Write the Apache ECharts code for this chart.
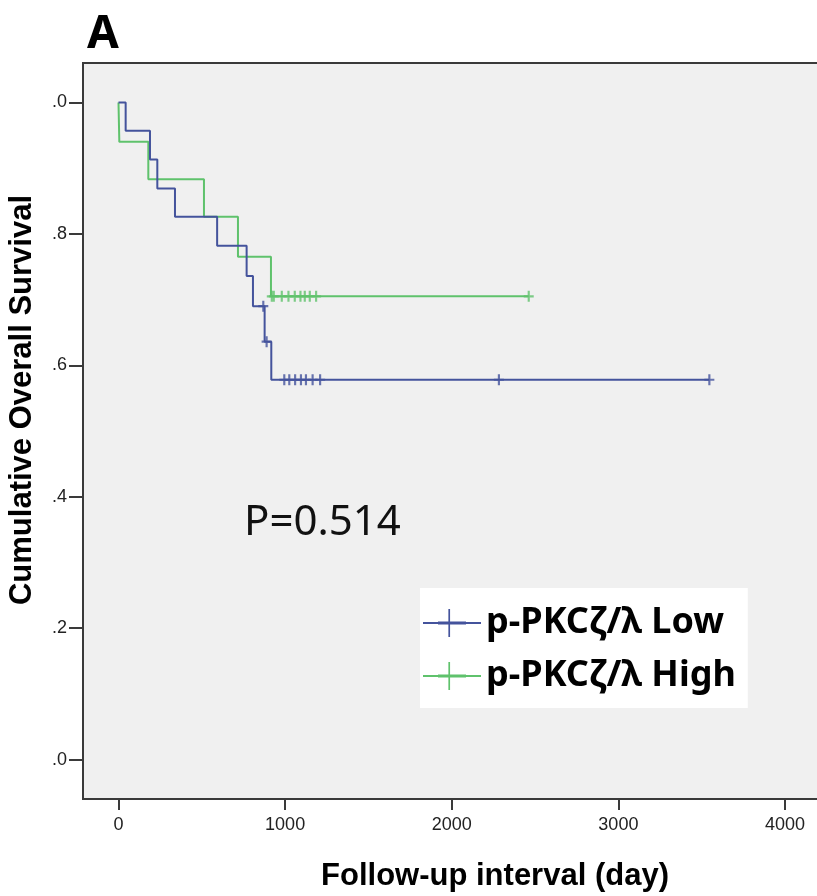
<!DOCTYPE html>
<html>
<head>
<meta charset="utf-8">
<title>KM survival</title>
<script src="https://cdn.jsdelivr.net/npm/echarts@6/dist/echarts.min.js"></script>
<style>
  html, body { margin: 0; padding: 0; background: #fff; }
  #chart { width: 817px; height: 896px; }
</style>
</head>
<body>
<div id="chart"></div>
<script>
// step points of each curve: day where survival drops, survival after the drop
var lowDays  = [0, 43, 189, 233, 339, 592, 769, 807, 877, 917, 3546];
var lowSurv  = [1.0, 0.957, 0.913, 0.869, 0.826, 0.782, 0.736, 0.690, 0.636, 0.578, 0.578];
var highDays = [0, 5, 179, 513, 717, 915, 2462];
var highSurv = [1.0, 0.940, 0.883, 0.826, 0.765, 0.705, 0.705];

// censored cases (days)
var lowCensorDays  = [869, 889, 995, 1025, 1060, 1095, 1125, 1165, 1210, 2283, 3546];
var highCensorDays = [920, 932, 980, 1020, 1058, 1092, 1118, 1148, 1186, 2462];

var seriesNames = ['p-PKCζ/λ Low', 'p-PKCζ/λ High'];
var xTickValues = [0, 1000, 2000, 3000, 4000];
var yTickValues = [0, 0.2, 0.4, 0.6, 0.8, 1.0];
var yTickLabels = ['.0', '.2', '.4', '.6', '.8', '.0'];

var blue = '#44539c';
var green = '#5fc26c';
var titleFont = 'bold 31px "Liberation Sans", Arial, sans-serif';

function pairs(xs, ys) {
    return xs.map(function (x, i) { return [x, ys[i]]; });
}
// survival level of the curve at a given day (for placing censor marks)
function survAt(days, surv, t) {
    var s = surv[0];
    for (var i = 0; i < days.length; i++) {
        if (days[i] <= t) s = surv[i];
    }
    return s;
}
function censorPoints(cDays, days, surv) {
    return cDays.map(function (t) { return [t, survAt(days, surv, t)]; });
}

var plusMark = 'path://M4,0H6.2V11H4Z M0,4.4H10.2V6.6H0Z';
var legendIcon = 'path://M0,15.5H58V19.5H0Z M21.5,0H25V35H21.5Z';

var myChart = echarts.init(document.getElementById('chart'), null, { renderer: 'canvas' });

myChart.setOption({
    animation: false,
    backgroundColor: '#ffffff',
    grid: {
        left: 83, top: 63, right: -3, bottom: 97,
        show: true,
        backgroundColor: '#f0f0f0',
        borderColor: '#3a3a3a',
        borderWidth: 2,
        outerBoundsMode: 'none'
    },
    graphic: [
        { type: 'text', left: 87, top: 12,
          style: { text: 'A', font: 'bold 46px "Noto Sans", sans-serif', fill: '#000' } },
        { type: 'text', left: 244, top: 502,
          style: { text: 'P=0.514', font: '42px "Noto Sans", sans-serif', fill: '#111' } },
        // axis titles
        { type: 'text', x: 22, y: 400, rotation: Math.PI / 2,
          style: { text: 'Cumulative Overall Survival', font: titleFont, fill: '#000', align: 'center', verticalAlign: 'middle' } },
        { type: 'text', x: 495, y: 876,
          style: { text: 'Follow-up interval (day)', font: titleFont, fill: '#000', align: 'center', verticalAlign: 'middle' } }
    ],
    legend: {
        data: seriesNames,
        orient: 'vertical',
        left: 420, top: 588,
        backgroundColor: '#ffffff',
        padding: [17, 12, 14, 2],
        itemWidth: 58, itemHeight: 35,
        itemGap: 17,
        itemTextGap: 8,
        textStyle: { fontFamily: '"Noto Sans", sans-serif', fontWeight: 'bold', fontSize: 36, color: '#000' },
        selectedMode: false
    },
    xAxis: {
        type: 'value',
        min: -213, max: 4210,
        axisLine: { show: true, onZero: false, lineStyle: { color: '#3a3a3a', width: 2 } },
        axisTick: { show: true, length: 11, customValues: xTickValues, lineStyle: { color: '#3a3a3a', width: 2 } },
        axisLabel: {
            customValues: xTickValues, margin: 17,
            fontFamily: '"Liberation Sans", Arial, sans-serif', fontSize: 18, color: '#222',
            formatter: function (v) { return String(v); }
        },
        splitLine: { show: false }
    },
    yAxis: {
        type: 'value',
        min: -0.06, max: 1.06,
        axisLine: { show: true, onZero: false, lineStyle: { color: '#3a3a3a', width: 2 } },
        axisTick: { show: true, length: 14, customValues: yTickValues, lineStyle: { color: '#3a3a3a', width: 2 } },
        axisLabel: {
            customValues: yTickValues, margin: 16,
            fontFamily: '"Liberation Sans", Arial, sans-serif', fontSize: 18, color: '#222',
            formatter: function (v) {
                var i = yTickValues.findIndex(function (t) { return Math.abs(t - v) < 1e-6; });
                return i >= 0 ? yTickLabels[i] : '';
            }
        },
        splitLine: { show: false }
    },
    series: [
        {
            name: seriesNames[0], type: 'line', step: 'end',
            data: pairs(lowDays, lowSurv),
            showSymbol: false, symbol: legendIcon,
            lineStyle: { color: blue, width: 2 },
            itemStyle: { color: blue },
            z: 3
        },
        {
            name: seriesNames[1], type: 'line', step: 'end',
            data: pairs(highDays, highSurv),
            showSymbol: false, symbol: legendIcon,
            lineStyle: { color: green, width: 2 },
            itemStyle: { color: green },
            z: 2
        },
        {
            name: 'low-censor', type: 'scatter',
            data: censorPoints(lowCensorDays, lowDays, lowSurv),
            symbol: plusMark, symbolSize: [10, 11],
            itemStyle: { color: blue },
            z: 4
        },
        {
            name: 'high-censor', type: 'scatter',
            data: censorPoints(highCensorDays, highDays, highSurv),
            symbol: plusMark, symbolSize: [10, 11],
            itemStyle: { color: green },
            z: 4
        }
    ]
});
</script>
</body>
</html>
